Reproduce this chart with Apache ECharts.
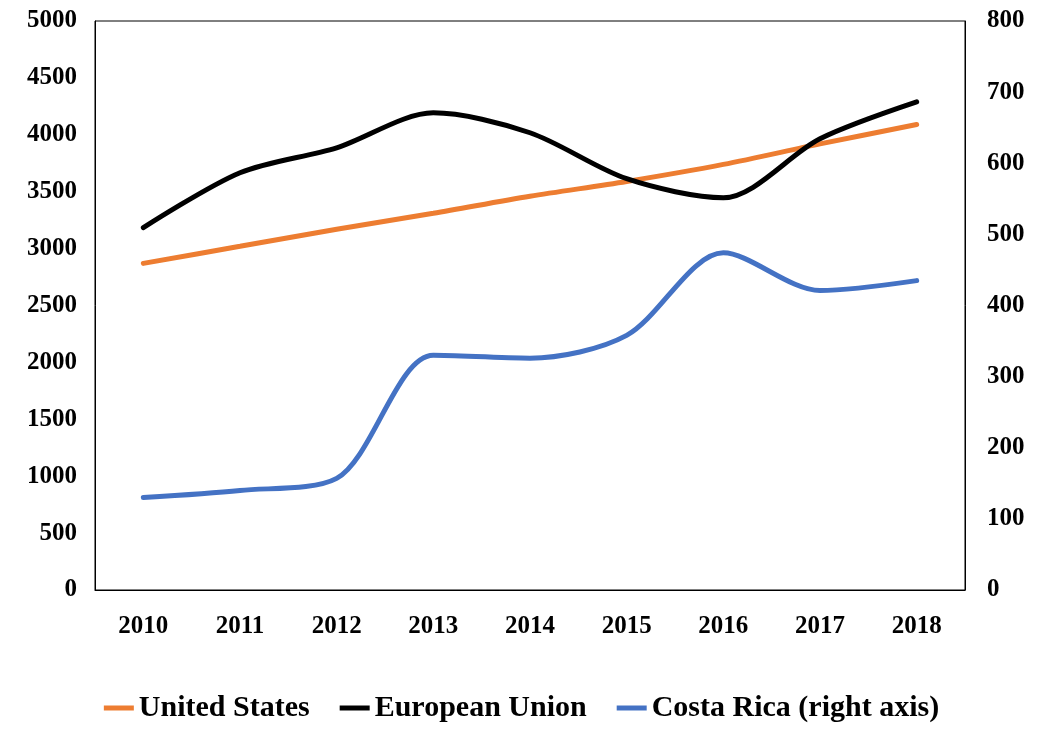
<!DOCTYPE html>
<html><head><meta charset="utf-8">
<script src="https://cdn.jsdelivr.net/npm/echarts@6/dist/echarts.min.js"></script>
<style>html,body{margin:0;padding:0;background:#fff}#c{width:1043px;height:755px}</style>
</head><body><div id="c"></div>
<script>
const years = ['2010','2011','2012','2013','2014','2015','2016','2017','2018'];
const unitedStates = [2870, 3020, 3170, 3310, 3460, 3590, 3740, 3920, 4090];
const europeanUnion = [3184, 3667, 3886, 4193, 4018, 3614, 3447, 3965, 4289];
const costaRica = [130, 140, 157, 330, 326, 358, 474, 421, 435];
const seriesNames = ['United States', 'European Union', 'Costa Rica (right axis)'];

const font = '"Liberation Serif", "DejaVu Serif", serif';
const chart = echarts.init(document.getElementById('c'));
const axisLabel = {color:'#000', fontFamily:font, fontWeight:'bold', fontSize:25, formatter:v => String(v)};
chart.setOption({
  animation:false,
  grid:{left:95, right:78, top:21, bottom:165, show:true, borderColor:'#000', borderWidth:1},
  legend:{
    top:688, left:'center', itemWidth:30, itemHeight:5, itemGap:30,
    icon:'rect',
    textStyle:{color:'#000', fontFamily:font, fontWeight:'bold', fontSize:30},
    data:seriesNames
  },
  xAxis:{
    type:'category', data:years, boundaryGap:true,
    axisLine:{lineStyle:{color:'#000'}}, axisTick:{show:false},
    axisLabel:Object.assign({}, axisLabel, {margin:24, formatter:null})
  },
  yAxis:[
    {type:'value', min:0, max:5000, interval:500, splitLine:{show:false},
     axisLine:{show:true, lineStyle:{color:'#000'}}, axisTick:{show:false},
     axisLabel:Object.assign({margin:18}, axisLabel)},
    {type:'value', min:0, max:800, interval:100, splitLine:{show:false},
     axisLine:{show:true, lineStyle:{color:'#000'}}, axisTick:{show:false},
     axisLabel:Object.assign({margin:22}, axisLabel)}
  ],
  series:[
    {name:seriesNames[0], type:'line', data:unitedStates, smooth:0.3, symbol:'none', yAxisIndex:0,
     lineStyle:{width:5, color:'#ED7D31', cap:'round'}, itemStyle:{color:'#ED7D31'}},
    {name:seriesNames[1], type:'line', data:europeanUnion, smooth:0.3, symbol:'none', yAxisIndex:0,
     lineStyle:{width:5, color:'#000', cap:'round'}, itemStyle:{color:'#000'}},
    {name:seriesNames[2], type:'line', data:costaRica, smooth:0.3, symbol:'none', yAxisIndex:1,
     lineStyle:{width:5, color:'#4472C4', cap:'round'}, itemStyle:{color:'#4472C4'}}
  ]
});
</script></body></html>
